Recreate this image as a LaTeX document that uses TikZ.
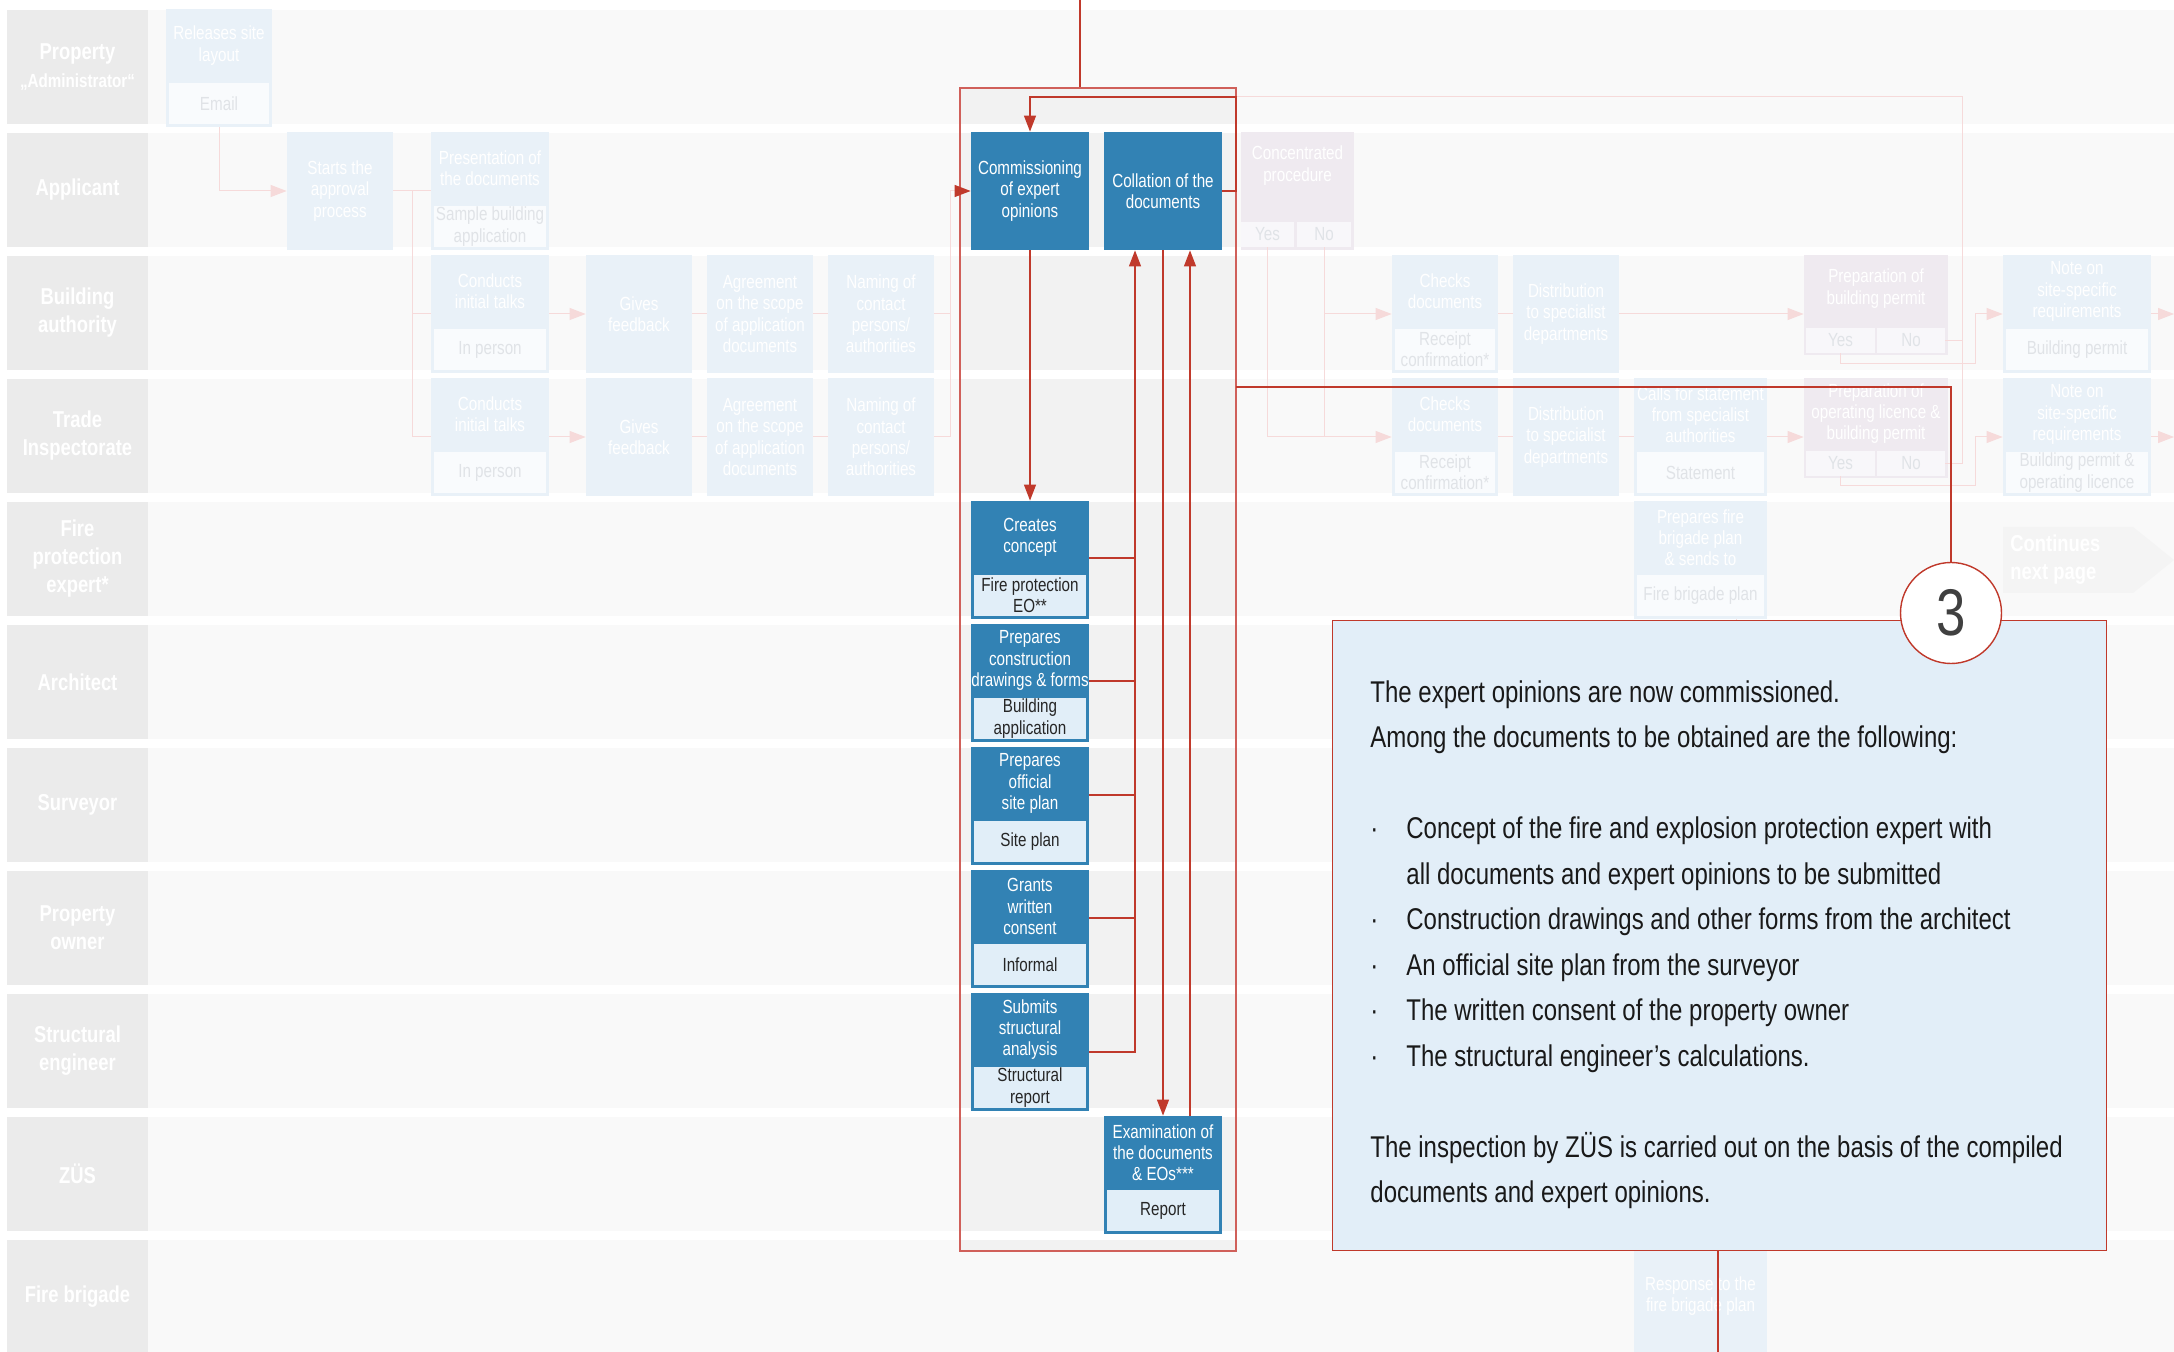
\documentclass[tikz,border=0pt]{standalone}
\usepackage{fontspec}
\setmainfont{Liberation Sans}[FakeStretch=0.8]
\usepackage{xcolor}
\usetikzlibrary{positioning}
\usetikzlibrary{arrows.meta}

\definecolor{lanebg}{HTML}{F9F9F9}
\definecolor{framebg}{HTML}{F2F2F2}
\definecolor{labelgray}{HTML}{EBEBEB}
\definecolor{fadeblue}{HTML}{E9F1F8}
\definecolor{fadesub}{HTML}{F9FBFD}
\definecolor{fadetext}{HTML}{E0E3E7}
\definecolor{fadepink}{HTML}{EFEAF0}
\definecolor{fadecell}{HTML}{F8F7FA}
\definecolor{fadered}{HTML}{F6DADA}
\definecolor{procblue}{HTML}{3282B4}
\definecolor{subblue}{HTML}{E1EEF8}
\definecolor{notered}{HTML}{C0392B}
\definecolor{framered}{HTML}{D0605A}
\definecolor{notebg}{HTML}{E2EEF8}
\definecolor{contgray}{HTML}{F4F4F4}

\tikzset{
  lanelabel/.style={fill=labelgray, text=white, font=\bfseries\fontsize{11.5}{14}\selectfont,
    align=center, minimum width=70.5pt, minimum height=57pt, inner sep=0pt},
  fadebox/.style={fill=fadeblue, text=white, font=\fontsize{9.5}{10.6}\selectfont,
    align=center, inner sep=0pt, minimum width=53pt, minimum height=59pt},
  fadetitle/.style={text=white, font=\fontsize{9.5}{10.6}\selectfont, align=center, inner sep=0pt},
  fadesubbox/.style={fill=fadesub, text=fadetext, font=\fontsize{9.5}{10.6}\selectfont,
    align=center, inner sep=0pt, minimum width=50pt, minimum height=20.5pt, anchor=south},
  pinkbox/.style={fadebox, fill=fadepink},
  cell/.style={fill=fadecell, text=fadetext, font=\fontsize{9.5}{10.6}\selectfont,
    inner sep=0pt, minimum height=12.5pt},
  procbox/.style={fill=procblue, text=white, font=\fontsize{9.5}{10.6}\selectfont,
    align=center, inner sep=0pt, minimum width=59pt, minimum height=59pt},
  proctitle/.style={text=white, font=\fontsize{9.5}{10.6}\selectfont, align=center, inner sep=0pt},
  procsub/.style={fill=subblue, text=black!85, font=\fontsize{9.5}{10.6}\selectfont,
    align=center, inner sep=0pt, minimum width=56pt, minimum height=20.5pt, anchor=south},
  fadeline/.style={draw=fadered, line width=0.5pt},
  fadearrow/.style={fadeline, -{Triangle[length=8pt,width=6pt]}},
  redline/.style={draw=notered, line width=0.6pt},
  redarrow/.style={redline, -{Triangle[length=8pt,width=6pt]}},
}

\begin{document}
\begin{tikzpicture}[x=0.5pt,y=-0.5pt]
\useasboundingbox (0,0) rectangle (2174,1352);
\fill[white] (0,0) rectangle (2174,1352);

% swim lanes
\foreach \i in {0,...,10}
  \fill[lanebg] (148,{10+123*\i}) rectangle (2174,{124+123*\i});

\node (lane0) at (77.5,67) [lanelabel] {Property\\{\fontsize{9.5}{12}\selectfont „Administrator“}};
\foreach \i/\lab in {1/Applicant, 2/{Building\\authority}, 3/{Trade\\Inspectorate},
    4/{Fire\\protection\\expert*}, 5/Architect, 6/Surveyor, 7/{Property\\owner},
    8/{Structural\\engineer}, 9/ZÜS, 10/Fire brigade}
  \node (lane\i) at (77.5,{67+123*\i}) [lanelabel] {\lab};

% lanes inside the frame
\fill[framebg] (960,88) rectangle (1236,124);
\foreach \i in {1,...,9}
  \fill[framebg] (960,{10+123*\i}) rectangle (1236,{124+123*\i});
\fill[framebg] (960,1240) rectangle (1236,1251);

% faded steps, left part
\node (rel) at (219,68) [fadebox] {};
\node (relt) at ([yshift=-18.5pt]rel.north) [fadetitle] {Releases site\\layout};
\node (rels) at ([yshift=1.5pt]rel.south) [fadesubbox] {Email};

\node (start) at (340,191) [fadebox] {Starts the\\approval\\process};

\node (pres) at (490,191) [fadebox, minimum width=59pt] {};
\node (prest) at ([yshift=-18.5pt]pres.north) [fadetitle] {Presentation of\\the documents};
\node (press) at ([yshift=1.5pt]pres.south) [fadesubbox, minimum width=56pt] {Sample building\\application};

\node (talkB) at (490,314) [fadebox, minimum width=59pt] {};
\node (talkBt) at ([yshift=-18.5pt]talkB.north) [fadetitle] {Conducts\\initial talks};
\node (talkBs) at ([yshift=1.5pt]talkB.south) [fadesubbox, minimum width=56pt] {In person};

\node (talkT) at (490,437) [fadebox, minimum width=59pt] {};
\node (talkTt) at ([yshift=-18.5pt]talkT.north) [fadetitle] {Conducts\\initial talks};
\node (talkTs) at ([yshift=1.5pt]talkT.south) [fadesubbox, minimum width=56pt] {In person};

\node (feedB) at (639,314) [fadebox] {Gives\\feedback};
\node (feedT) at (639,437) [fadebox] {Gives\\feedback};
\node (agrB) at (760,314) [fadebox] {Agreement\\on the scope\\of application\\documents};
\node (agrT) at (760,437) [fadebox] {Agreement\\on the scope\\of application\\documents};
\node (nameB) at (881,314) [fadebox] {Naming of\\contact\\persons/\\authorities};
\node (nameT) at (881,437) [fadebox] {Naming of\\contact\\persons/\\authorities};

% faded steps, right part
\node (conc) at (1297.5,191) [pinkbox, minimum width=56.5pt] {};
\node (conct) at ([yshift=-17pt]conc.north) [fadetitle] {Concentrated\\procedure};
\node (concY) at (1267.5,234.5) [cell, minimum width=26.5pt] {Yes};
\node (concN) at (1324,234.5) [cell, minimum width=27pt] {No};

\node (chkB) at (1445,314) [fadebox] {};
\node (chkBt) at ([yshift=-18.5pt]chkB.north) [fadetitle] {Checks\\documents};
\node (chkBs) at ([yshift=1.5pt]chkB.south) [fadesubbox] {Receipt\\confirmation*};
\node (chkT) at (1445,437) [fadebox] {};
\node (chkTt) at ([yshift=-18.5pt]chkT.north) [fadetitle] {Checks\\documents};
\node (chkTs) at ([yshift=1.5pt]chkT.south) [fadesubbox] {Receipt\\confirmation*};

\node (distB) at (1566,314) [fadebox] {Distribution\\to specialist\\departments};
\node (distT) at (1566,437) [fadebox] {Distribution\\to specialist\\departments};

\node (calls) at (1700.5,437) [fadebox, minimum width=66.5pt] {};
\node (callst) at ([yshift=-18.5pt]calls.north) [fadetitle] {Calls for statement\\from specialist\\authorities};
\node (callss) at ([yshift=1.5pt]calls.south) [fadesubbox, minimum width=63.5pt] {Statement};

\node (fbplan) at (1700.5,560) [fadebox, minimum width=66.5pt] {};
\node (fbplant) at ([yshift=-18.5pt]fbplan.north) [fadetitle] {Prepares fire\\brigade plan\\\& sends to};
\node (fbplans) at ([yshift=1.5pt]fbplan.south) [fadesubbox, minimum width=63.5pt] {Fire brigade plan};

\node (resp) at (1700.5,1296) [fadebox, minimum width=66.5pt, minimum height=56pt] {Response to the\\fire brigade plan};

\node (permB) at (1876,305) [pinkbox, minimum width=72pt, minimum height=50pt] {};
\node (permBt) at ([yshift=-17pt]permB.north) [fadetitle] {Preparation of\\building permit};
\node (permBY) at (1840.5,340.5) [cell, minimum width=34.5pt] {Yes};
\node (permBN) at (1911,340.5) [cell, minimum width=34pt] {No};

\node (permT) at (1876,428) [pinkbox, minimum width=72pt, minimum height=50pt] {};
\node (permTt) at ([yshift=-18pt]permT.north) [fadetitle] {Preparation of\\operating licence \&\\building permit};
\node (permTY) at (1840.5,463.5) [cell, minimum width=34.5pt] {Yes};
\node (permTN) at (1911,463.5) [cell, minimum width=34pt] {No};

\node (noteB) at (2077,314) [fadebox, minimum width=74pt] {};
\node (noteBt) at ([yshift=-18.5pt]noteB.north) [fadetitle] {Note on\\site-specific\\requirements};
\node (noteBs) at ([yshift=1.5pt]noteB.south) [fadesubbox, minimum width=71pt] {Building permit};
\node (noteT) at (2077,437) [fadebox, minimum width=74pt] {};
\node (noteTt) at ([yshift=-18.5pt]noteT.north) [fadetitle] {Note on\\site-specific\\requirements};
\node (noteTs) at ([yshift=1.5pt]noteT.south) [fadesubbox, minimum width=71pt] {Building permit \&\\operating licence};

\fill[contgray] (2003,527) -- (2133,527) -- (2174,560) -- (2133,593) -- (2003,593) -- cycle;
\node (cont) at (2010,560) [anchor=west, align=left, inner sep=0pt, text=white,
  font=\bfseries\fontsize{11.5}{14}\selectfont] {Continues\\next page};

% faded connectors
\coordinate (split) at (412,191);
\coordinate (join) at (950,191);
\coordinate (loop) at (1236,97);
\coordinate (loopR) at (1962,97);
\coordinate (turnB) at (1975,364);
\coordinate (turnT) at (1975,486);
\coordinate (exitB) at (2174,314);
\coordinate (exitT) at (2174,437);

\draw[fadearrow] (rel.south) |- (start.west);
\draw[fadeline] (start.east) -- (pres.west);
\draw[fadeline] (split) |- (talkB.west);
\draw[fadeline] (split) |- (talkT.west);
\draw[fadearrow] (talkB.east) -- (feedB.west);
\draw[fadearrow] (talkT.east) -- (feedT.west);
\draw[fadeline] (feedB.east) -- (agrB.west);
\draw[fadeline] (feedT.east) -- (agrT.west);
\draw[fadeline] (agrB.east) -- (nameB.west);
\draw[fadeline] (agrT.east) -- (nameT.west);
\draw[fadeline] (nameB.east) -| (join);
\draw[fadeline] (nameT.east) -| (join);
\draw[fadeline] (join) -- (join -| 960,0);

\draw[fadeline] (loop) -- (loopR) |- (permTN.east);
\draw[fadeline] (permBN.east) -- (permBN.east -| loopR);
\draw[fadearrow] (concN.south) |- (chkB.west);
\draw[fadearrow] (concN.south) |- (chkT.west);
\draw[fadeline] (concY.south) |- (chkT.west -| concN.south);
\draw[fadeline] (chkB.east) -- (distB.west);
\draw[fadeline] (chkT.east) -- (distT.west);
\draw[fadeline] (distT.east) -- (calls.west);
\draw[fadearrow] (distB.east) -- (distB.east -| permB.west);
\draw[fadearrow] (calls.east) -- (calls.east -| permT.west);
\draw[fadearrow] (permBY.south) |- (turnB) |- (noteB.west);
\draw[fadearrow] (permTY.south) |- (turnT) |- (noteT.west);
\draw[fadearrow] (noteB.east) -- (exitB);
\draw[fadearrow] (noteT.east) -- (exitT);
\draw[fadeline] ([xshift=18pt]fbplan.south) -- ([xshift=18pt]resp.north);

% frame round step 3
\node (frame) at (1098,669.5) [draw=framered, line width=0.9pt, minimum width=138pt,
  minimum height=581.5pt, inner sep=0pt] {};

% step 3
\node (comm) at (1030,191) [procbox] {Commissioning\\of expert\\opinions};
\node (coll) at (1163,191) [procbox] {Collation of the\\documents};

\node (fire) at (1030,560) [procbox] {};
\node (firet) at ([yshift=-18.5pt]fire.north) [proctitle] {Creates\\concept};
\node (fires) at ([yshift=1.5pt]fire.south) [procsub] {Fire protection\\EO**};

\node (arch) at (1030,683) [procbox] {};
\node (archt) at ([yshift=-18.5pt]arch.north) [proctitle] {Prepares\\construction\\drawings \& forms};
\node (archs) at ([yshift=1.5pt]arch.south) [procsub] {Building\\application};

\node (surv) at (1030,806) [procbox] {};
\node (survt) at ([yshift=-18.5pt]surv.north) [proctitle] {Prepares\\official\\site plan};
\node (survs) at ([yshift=1.5pt]surv.south) [procsub] {Site plan};

\node (owner) at (1030,929) [procbox] {};
\node (ownert) at ([yshift=-18.5pt]owner.north) [proctitle] {Grants\\written\\consent};
\node (owners) at ([yshift=1.5pt]owner.south) [procsub] {Informal};

\node (struct) at (1030,1052) [procbox] {};
\node (structt) at ([yshift=-18.5pt]struct.north) [proctitle] {Submits\\structural\\analysis};
\node (structs) at ([yshift=1.5pt]struct.south) [procsub] {Structural\\report};

\node (exam) at (1163,1175) [procbox] {};
\node (examt) at ([yshift=-18.5pt]exam.north) [proctitle] {Examination of\\the documents\\\& EOs***};
\node (exams) at ([yshift=1.5pt]exam.south) [procsub] {Report};

% red connectors
\coordinate (topin) at (1080,0);
\coordinate (collin) at ([xshift=-14pt]coll.south);
\coordinate (collback) at ([xshift=13.5pt]coll.south);
\coordinate (out3) at (1236,387);
\coordinate (down3) at (1718,1352);

\draw[redline] (topin) -- (topin |- frame.north);
\draw[redarrow] (coll.east) -| (loop) -| (comm.north);
\draw[redarrow] (join -| frame.west) -- (comm.west);
\draw[redarrow] (comm.south) -- (fire.north);
\draw[redline] ([yshift=1pt]fire.east) -- ([yshift=1pt]fire.east -| collin);
\draw[redline] ([yshift=1pt]arch.east) -- ([yshift=1pt]arch.east -| collin);
\draw[redline] ([yshift=5.5pt]surv.east) -- ([yshift=5.5pt]surv.east -| collin);
\draw[redline] ([yshift=5.5pt]owner.east) -- ([yshift=5.5pt]owner.east -| collin);
\draw[redarrow] (struct.east) -| (collin);
\draw[redarrow] (coll.south) -- (exam.north);
\draw[redarrow] (exam.north -| collback) -- (collback);

% note 3
\node (note3) at (1719,935.5) [draw=notered, line width=0.5pt, fill=notebg,
  minimum width=387pt, minimum height=314.5pt, inner sep=0pt] {};
\draw[redline] (out3) -| (1951,563);
\draw[redline] (note3.south -| down3) -- (down3);
\node (c3) at (1951,613) [circle, draw=notered, line width=0.7pt, fill=white,
  minimum size=50.5pt, inner sep=0pt, text=black!75, font=\fontsize{33}{33}\selectfont] {3};

\node (note3txt) at (1370,680) [anchor=north west, align=left, inner sep=0pt, text=black!90,
  font=\fontsize{15}{22.75}\selectfont] {The expert opinions are now commissioned.\\
Among the documents to be obtained are the following:\\[22.75pt]
\makebox[18pt][l]{·}Concept of the fire and explosion protection expert with\\
\hspace*{18pt}all documents and expert opinions to be submitted\\
\makebox[18pt][l]{·}Construction drawings and other forms from the architect\\
\makebox[18pt][l]{·}An official site plan from the surveyor\\
\makebox[18pt][l]{·}The written consent of the property owner\\
\makebox[18pt][l]{·}The structural engineer’s calculations.\\[22.75pt]
The inspection by ZÜS is carried out on the basis of the compiled\\
documents and expert opinions.};

\end{tikzpicture}
\end{document}
